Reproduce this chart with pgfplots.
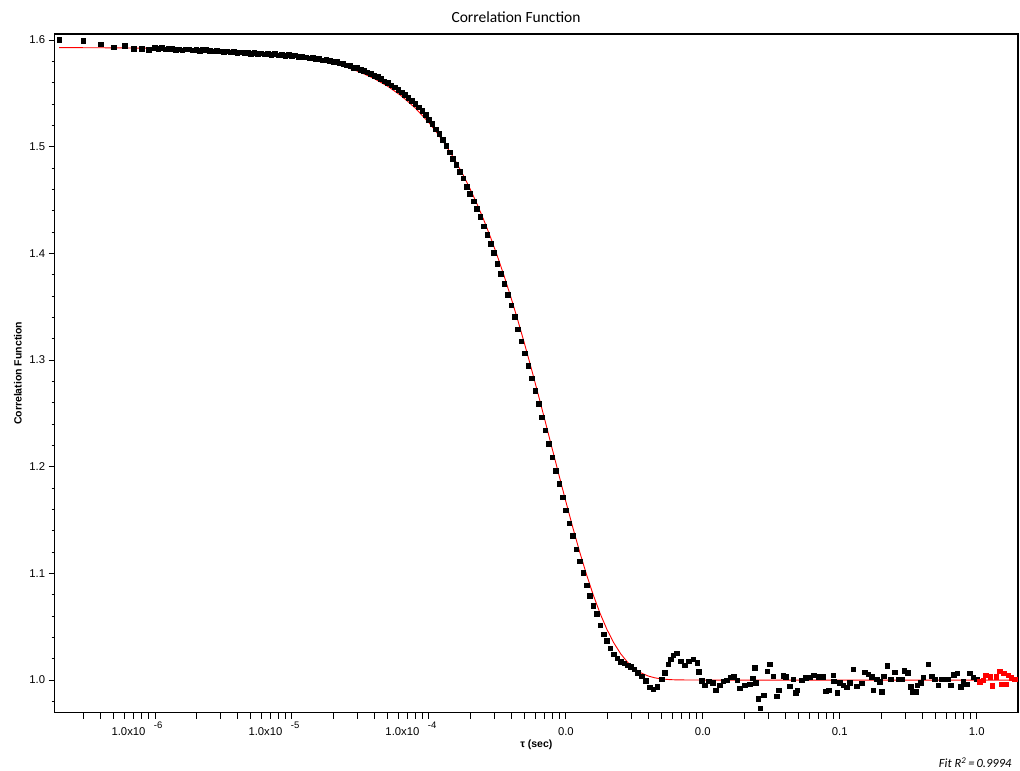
\documentclass[border=0pt]{standalone}
\usepackage{fontspec}
\setmainfont{Liberation Sans}
\newfontfamily\titlefont{Carlito}
\usepackage{pgfplots}
\pgfplotsset{compat=1.18}
\newcommand{\sci}[1]{\makebox[0pt][r]{1.0x10\hspace{9.5pt}}\makebox[0pt][l]{\hspace{-1pt}\raisebox{7.5pt}{\fontsize{9.5}{10}\selectfont #1}}}
\begin{document}
\begin{tikzpicture}
\path[use as bounding box] (-54.7pt,-58.3pt) rectangle (965.3pt,712.7pt);
\begin{axis}[
  at={(0pt,0pt)}, anchor=south west,
  scale only axis, width=963.3pt, height=678.7pt,
  xmode=log, xmin=1.853e-7, xmax=2.0,
  ymin=0.9694, ymax=1.6056,
  clip=false,
  axis line style={line width=1.1pt},
  every tick/.style={black, line width=0.9pt},
  tick align=outside,
  xtick pos=bottom, ytick pos=left,
  major tick length=6pt, minor tick length=3pt,
  xtick={1e-6,1e-5,1e-4,1e-3,1e-2,1e-1,1},
  xticklabels={\sci{-6},\sci{-5},\sci{-4},0.0,0.0,0.1,1.0},
  xminorticks=false,
  extra x ticks={3e-7,4e-7,5e-7,6e-7,7e-7,8e-7,9e-7,
    2e-6,3e-6,4e-6,5e-6,6e-6,7e-6,8e-6,9e-6,
    2e-5,3e-5,4e-5,5e-5,6e-5,7e-5,8e-5,9e-5,
    2e-4,3e-4,4e-4,5e-4,6e-4,7e-4,8e-4,9e-4,
    2e-3,3e-3,4e-3,5e-3,6e-3,7e-3,8e-3,9e-3,
    2e-2,3e-2,4e-2,5e-2,6e-2,7e-2,8e-2,9e-2,
    2e-1,3e-1,4e-1,5e-1,6e-1,7e-1,8e-1,9e-1},
  extra x tick labels={},
  ytick={1.0,1.1,1.2,1.3,1.4,1.5,1.6},
  minor ytick={0.98,1.02,1.04,1.06,1.08,1.12,1.14,1.16,1.18,1.22,1.24,1.26,1.28,1.32,1.34,1.36,1.38,1.42,1.44,1.46,1.48,1.52,1.54,1.56,1.58},
  /pgf/number format/assume math mode=true,
  yticklabel style={/pgf/number format/fixed, /pgf/number format/fixed zerofill, /pgf/number format/precision=1, /pgf/number format/assume math mode=true},
  ticklabel style={font=\fontsize{11.3}{13}\selectfont},
  xticklabel style={anchor=base, yshift=-17pt},
  title={Correlation Function},
  title style={font=\titlefont\fontsize{15.5}{17}\selectfont, at={(axis description cs:0.4789,1.0074)}, anchor=base},
  xlabel={τ (sec)},
  xlabel style={font=\bfseries\fontsize{10.5}{12}\selectfont, at={(axis description cs:0.5,-0.0476)}, anchor=center},
  ylabel={Correlation Function},
  ylabel style={font=\bfseries\fontsize{10.5}{12}\selectfont, at={(axis description cs:-0.0381,0.5)}, anchor=center},
]
\addplot[only marks, mark=square*, mark size=2.3pt, black] table {
x y
2e-7 1.6000
3e-7 1.5991
4e-7 1.5962
5e-7 1.5934
6e-7 1.5944
7e-7 1.5916
8e-7 1.5916
9e-7 1.5906
1.000e-6 1.5925
1.059e-6 1.5918
1.122e-6 1.5925
1.189e-6 1.5912
1.259e-6 1.5916
1.334e-6 1.5920
1.413e-6 1.5908
1.496e-6 1.5914
1.585e-6 1.5905
1.679e-6 1.5912
1.778e-6 1.5915
1.884e-6 1.5903
1.995e-6 1.5908
2.113e-6 1.5900
2.239e-6 1.5906
2.371e-6 1.5911
2.512e-6 1.5898
2.661e-6 1.5893
2.818e-6 1.5901
2.985e-6 1.5895
3.162e-6 1.5888
3.350e-6 1.5896
3.548e-6 1.5884
3.758e-6 1.5890
3.981e-6 1.5882
4.217e-6 1.5887
4.467e-6 1.5878
4.732e-6 1.5883
5.012e-6 1.5874
5.309e-6 1.5880
5.623e-6 1.5871
5.957e-6 1.5877
6.310e-6 1.5866
6.683e-6 1.5872
7.079e-6 1.5863
7.499e-6 1.5869
7.943e-6 1.5858
8.414e-6 1.5864
8.913e-6 1.5855
9.441e-6 1.5861
1.000e-5 1.5850
1.059e-5 1.5856
1.122e-5 1.5843
1.189e-5 1.5845
1.259e-5 1.5840
1.334e-5 1.5829
1.413e-5 1.5833
1.496e-5 1.5822
1.585e-5 1.5823
1.679e-5 1.5812
1.778e-5 1.5814
1.884e-5 1.5808
1.995e-5 1.5797
2.113e-5 1.5799
2.239e-5 1.5781
2.371e-5 1.5779
2.512e-5 1.5763
2.661e-5 1.5758
2.818e-5 1.5741
2.985e-5 1.5738
3.162e-5 1.5722
3.350e-5 1.5714
3.548e-5 1.5696
3.758e-5 1.5685
3.981e-5 1.5666
4.217e-5 1.5653
4.467e-5 1.5637
4.732e-5 1.5615
5.012e-5 1.5600
5.309e-5 1.5577
5.623e-5 1.5558
5.957e-5 1.5534
6.310e-5 1.5512
6.683e-5 1.5486
7.079e-5 1.5460
7.499e-5 1.5432
7.943e-5 1.5402
8.414e-5 1.5370
8.913e-5 1.5337
9.441e-5 1.5302
1.000e-4 1.5255
1.059e-4 1.5216
1.122e-4 1.5165
1.189e-4 1.5121
1.259e-4 1.5066
1.334e-4 1.5009
1.413e-4 1.4949
1.496e-4 1.4887
1.585e-4 1.4832
1.679e-4 1.4765
1.778e-4 1.4705
1.884e-4 1.4627
1.995e-4 1.4557
2.113e-4 1.4488
2.239e-4 1.4417
2.371e-4 1.4343
2.512e-4 1.4255
2.661e-4 1.4174
2.818e-4 1.4091
2.985e-4 1.4004
3.162e-4 1.3904
3.350e-4 1.3811
3.548e-4 1.3715
3.758e-4 1.3615
3.981e-4 1.3513
4.217e-4 1.3407
4.467e-4 1.3289
4.732e-4 1.3178
5.012e-4 1.3064
5.309e-4 1.2948
5.623e-4 1.2830
5.957e-4 1.2710
6.310e-4 1.2588
6.683e-4 1.2465
7.079e-4 1.2341
7.499e-4 1.2215
7.943e-4 1.2090
8.414e-4 1.1964
8.913e-4 1.1839
9.441e-4 1.1715
1.000e-3 1.1592
1.059e-3 1.1472
1.122e-3 1.1353
1.189e-3 1.1227
1.259e-3 1.1115
1.334e-3 1.1006
1.413e-3 1.0891
1.496e-3 1.0793
1.585e-3 1.0697
1.679e-3 1.0620
1.778e-3 1.0513
1.884e-3 1.0429
1.995e-3 1.0367
2.113e-3 1.0299
2.239e-3 1.0244
2.371e-3 1.0203
2.512e-3 1.0172
2.661e-3 1.0157
2.818e-3 1.0141
2.985e-3 1.0125
3.162e-3 1.0100
3.350e-3 1.0068
3.569e-3 1.0038
3.836e-3 0.9993
4.104e-3 0.9932
4.337e-3 0.9913
4.638e-3 0.9937
4.995e-3 1.0007
5.279e-3 1.0068
5.581e-3 1.0147
5.810e-3 1.0194
6.070e-3 1.0234
6.427e-3 1.0250
6.874e-3 1.0178
7.390e-3 1.0141
7.904e-3 1.0178
8.497e-3 1.0194
9.087e-3 1.0162
9.350e-3 1.0078
9.784e-3 0.9993
1.034e-2 0.9953
1.106e-2 0.9991
1.177e-2 0.9975
1.244e-2 0.9906
1.331e-2 0.9953
1.406e-2 0.9991
1.489e-2 1.0000
1.593e-2 1.0025
1.684e-2 1.0031
1.780e-2 1.0000
1.863e-2 0.9922
2.026e-2 0.9953
2.203e-2 0.9960
2.306e-2 1.0016
2.385e-2 1.0115
2.437e-2 0.9975
2.533e-2 0.9828
2.619e-2 0.9735
2.788e-2 0.9857
2.946e-2 1.0084
3.084e-2 1.0147
3.259e-2 1.0038
3.451e-2 0.9850
3.587e-2 0.9906
3.855e-2 1.0040
4.034e-2 1.0031
4.315e-2 0.9944
4.561e-2 1.0007
4.772e-2 0.9881
4.878e-2 0.9906
5.252e-2 1.0000
5.646e-2 1.0022
6.039e-2 1.0025
6.459e-2 1.0047
6.944e-2 1.0031
7.553e-2 1.0031
7.904e-2 0.9897
8.271e-2 0.9906
8.937e-2 1.0047
9.042e-2 0.9991
9.557e-2 0.9881
0.1000 0.9975
0.1057 0.9953
0.1119 0.9932
0.1183 0.9975
0.1251 1.0100
0.1324 0.9944
0.1440 0.9969
0.1522 1.0072
0.1609 1.0056
0.1704 1.0031
0.1750 0.9906
0.1853 1.0009
0.1959 0.9984
0.2016 0.9890
0.2095 1.0038
0.2214 1.0134
0.2345 1.0009
0.2520 1.0072
0.2696 1.0009
0.2821 1.0009
0.2946 1.0087
0.3120 1.0068
0.3282 0.9937
0.3371 0.9890
0.3569 0.9890
0.3665 0.9953
0.3882 0.9978
0.4055 1.0025
0.4411 1.0147
0.4670 1.0038
0.4936 1.0007
0.5218 0.9953
0.5524 1.0009
0.5840 1.0009
0.6172 1.0009
0.6427 0.9953
0.6794 1.0053
0.7181 1.0063
0.7642 0.9937
0.7943 0.9984
0.8411 0.9963
0.8890 1.0063
0.9397 1.0025
0.9950 1.0007
};
\addplot[only marks, mark=square*, mark size=2.1pt, red] table {
x y
1.052 0.9984
1.112 1.0000
1.163 1.0047
1.259 1.0031
1.302 0.9947
1.393 1.0031
1.472 1.0084
1.515 0.9960
1.574 1.0063
1.636 0.9960
1.692 1.0047
1.792 1.0022
1.894 1.0007
};
\addplot[red, line width=0.9pt, mark=none] table {
x y
2e-7 1.59285
5e-7 1.59262
1e-6 1.59225
2e-6 1.59150
3.162e-6 1.59063
5.012e-6 1.58924
7.943e-6 1.58704
1e-5 1.58554
1.259e-5 1.58362
1.585e-5 1.58122
1.995e-5 1.57821
2.512e-5 1.57444
3.162e-5 1.56974
3.981e-5 1.56385
5.012e-5 1.55655
6.310e-5 1.54748
7.943e-5 1.53627
1e-4 1.52250
1.122e-4 1.51449
1.259e-4 1.50564
1.413e-4 1.49588
1.585e-4 1.48520
1.778e-4 1.47349
1.995e-4 1.46066
2.239e-4 1.44665
2.512e-4 1.43148
2.818e-4 1.41509
3.162e-4 1.39740
3.548e-4 1.37845
3.981e-4 1.35827
4.467e-4 1.33690
5.012e-4 1.31443
5.623e-4 1.29103
6.310e-4 1.26679
7.079e-4 1.24205
7.943e-4 1.21697
8.913e-4 1.19191
1e-3 1.16724
1.122e-3 1.14330
1.259e-3 1.12049
1.413e-3 1.09914
1.585e-3 1.07975
1.778e-3 1.06247
1.995e-3 1.04746
2.239e-3 1.03484
2.512e-3 1.02467
2.818e-3 1.01675
3.162e-3 1.01083
3.548e-3 1.00665
3.981e-3 1.00384
4.467e-3 1.00208
5.012e-3 1.00104
5.623e-3 1.00048
6.310e-3 1.00020
7.943e-3 1.00004
1e-2 1.00000
1.894 1.00000
};
\node[anchor=east, font=\titlefont\itshape\fontsize{12.5}{14}\selectfont] at (rel axis cs:0.9969,-0.0737) {Fit R\textsuperscript{2}\,=\,0.9994};
\end{axis}
\end{tikzpicture}
\end{document}
